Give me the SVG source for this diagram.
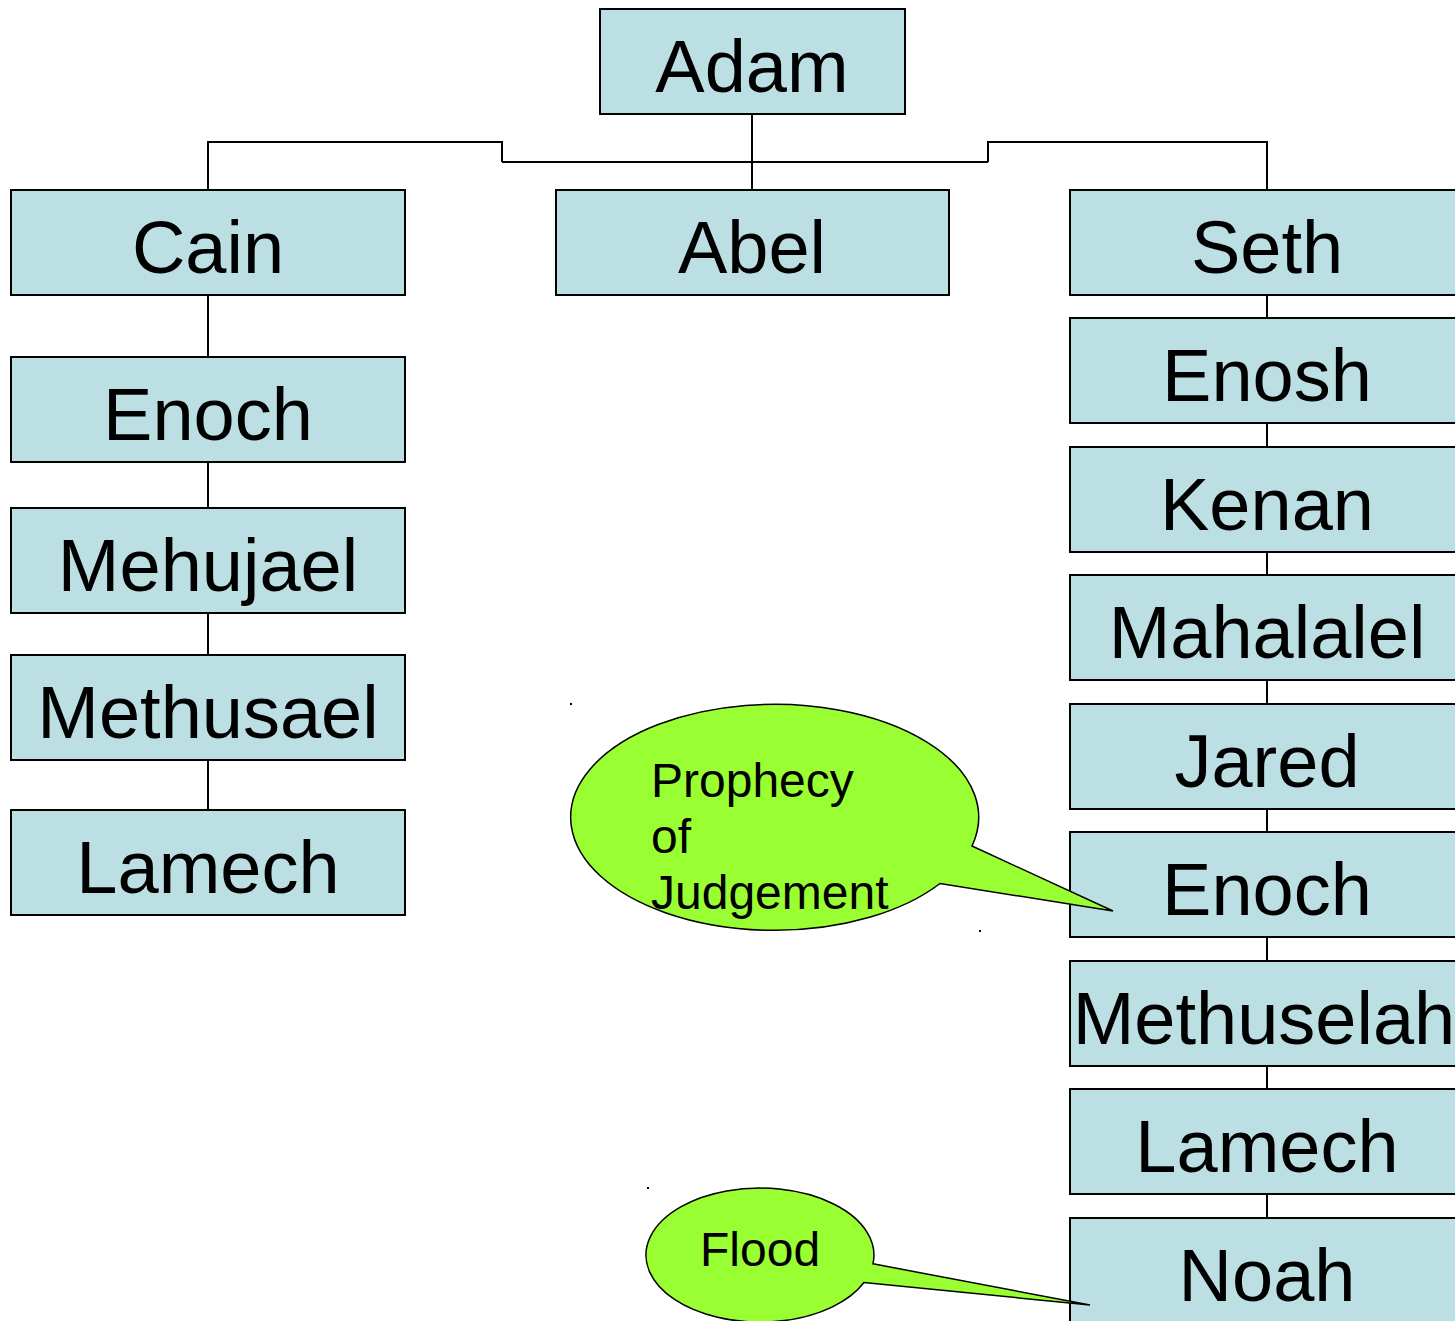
<svg xmlns="http://www.w3.org/2000/svg" width="1455" height="1321" viewBox="0 0 1455 1321">
<style>
.box{fill:#BBDFE2;stroke:#000;stroke-width:2}
.lbl{font-family:"Liberation Sans",Arial,sans-serif;font-size:74px;fill:#000;text-anchor:middle}
.con{fill:none;stroke:#000;stroke-width:2}
.call{fill:#99FF33;stroke:#000;stroke-width:1.5}
.ct{font-family:"Liberation Sans",Arial,sans-serif;font-size:48px;fill:#000}
.dot{fill:#000}
</style>
<rect width="1455" height="1321" fill="#fff"/>
<g id="connectors">
<path class="con" d="M752 114 V190"/>
<path class="con" d="M502 162 H988"/>
<path class="con" d="M502 162 V142 H208 V190"/>
<path class="con" d="M988 162 V142 H1267 V190"/>
<path class="con" d="M208 295 V357 M208 462 V508 M208 613 V655 M208 760 V810"/>
<path class="con" d="M1267 295 V318 M1267 423 V447 M1267 552 V575 M1267 680 V704 M1267 809 V832 M1267 937 V961 M1267 1066 V1089 M1267 1194 V1218"/>
</g>
<g id="adam"><rect class="box" x="600" y="9" width="305" height="105"/><text class="lbl" x="752" y="92">Adam</text></g>
<g id="cain"><rect class="box" x="11" y="190" width="394" height="105"/><text class="lbl" x="208" y="273">Cain</text></g>
<g id="abel"><rect class="box" x="556" y="190" width="393" height="105"/><text class="lbl" x="752" y="273">Abel</text></g>
<g id="seth"><rect class="box" x="1070" y="190" width="394" height="105"/><text class="lbl" x="1267" y="273">Seth</text></g>
<g id="enoch-cain"><rect class="box" x="11" y="357" width="394" height="105"/><text class="lbl" x="208" y="440">Enoch</text></g>
<g id="mehujael"><rect class="box" x="11" y="508" width="394" height="105"/><text class="lbl" x="208" y="591">Mehujael</text></g>
<g id="methusael"><rect class="box" x="11" y="655" width="394" height="105"/><text class="lbl" x="208" y="738">Methusael</text></g>
<g id="lamech-cain"><rect class="box" x="11" y="810" width="394" height="105"/><text class="lbl" x="208" y="893">Lamech</text></g>
<g id="enosh"><rect class="box" x="1070" y="318" width="394" height="105"/><text class="lbl" x="1267" y="401">Enosh</text></g>
<g id="kenan"><rect class="box" x="1070" y="447" width="394" height="105"/><text class="lbl" x="1267" y="530">Kenan</text></g>
<g id="mahalalel"><rect class="box" x="1070" y="575" width="394" height="105"/><text class="lbl" x="1267" y="658">Mahalalel</text></g>
<g id="jared"><rect class="box" x="1070" y="704" width="394" height="105"/><text class="lbl" x="1267" y="787">Jared</text></g>
<g id="enoch-seth"><rect class="box" x="1070" y="832" width="394" height="105"/><text class="lbl" x="1267" y="915">Enoch</text></g>
<g id="methuselah"><rect class="box" x="1070" y="961" width="394" height="105"/><text class="lbl" x="1264" y="1044">Methuselah</text></g>
<g id="lamech-seth"><rect class="box" x="1070" y="1089" width="394" height="105"/><text class="lbl" x="1267" y="1172">Lamech</text></g>
<g id="noah"><rect class="box" x="1070" y="1218" width="394" height="120"/><text class="lbl" x="1267" y="1301">Noah</text></g>
<g id="prophecy">
<path class="call" d="M972 846 L1113 911 L940 883.5 A204 113 0 1 1 972 846 Z"/>
<text class="ct" x="651" y="797">Prophecy</text>
<text class="ct" x="651" y="853">of</text>
<text class="ct" x="651" y="909">Judgement</text>
<rect class="dot" x="570" y="703" width="2" height="2"/>
<rect class="dot" x="979" y="930" width="2" height="2"/>
</g>
<g id="flood">
<path class="call" d="M873 1263.8 L1090 1305 L864 1282.5 A114 67 0 1 1 873 1263.8 Z"/>
<text class="ct" x="700" y="1266">Flood</text>
<rect class="dot" x="647" y="1187" width="2" height="2"/>
</g>
</svg>
